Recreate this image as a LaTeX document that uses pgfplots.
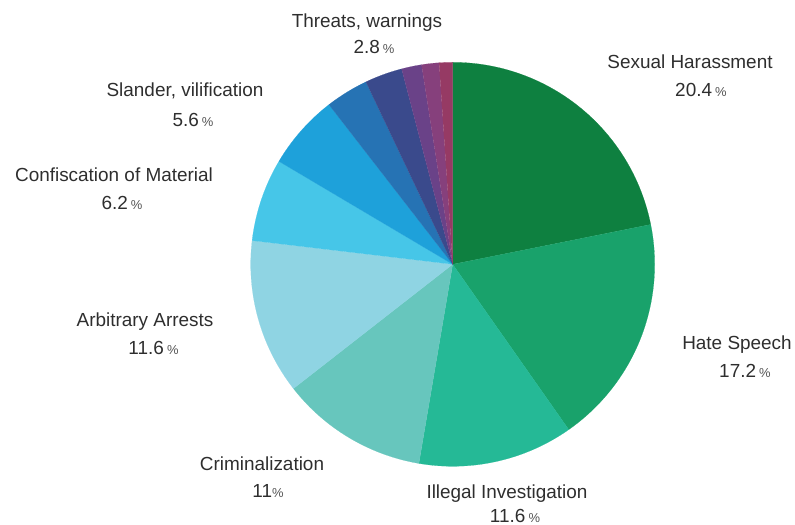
\documentclass[border=0pt]{standalone}
\usepackage{pgfplots}
\pgfplotsset{compat=1.18}
\usepackage{pgfplotstable}
\usepackage{fontspec}
\setmainfont{Liberation Sans}

\definecolor{c0}{HTML}{0E8040}
\definecolor{c1}{HTML}{19A26B}
\definecolor{c2}{HTML}{25B996}
\definecolor{c3}{HTML}{67C6BD}
\definecolor{c4}{HTML}{8FD4E3}
\definecolor{c5}{HTML}{46C6E8}
\definecolor{c6}{HTML}{1EA1DA}
\definecolor{c7}{HTML}{2673B4}
\definecolor{c8}{HTML}{3A4A8C}
\definecolor{c9}{HTML}{6A4288}
\definecolor{c10}{HTML}{86407C}
\definecolor{c11}{HTML}{963A64}
\definecolor{txt}{HTML}{2E2E2E}
\definecolor{pctc}{HTML}{555555}

% slices clockwise from 12 o'clock
\pgfplotstableread{
value
20.4
17.2
11.6
11
11.6
6.2
5.6
3.2
2.8
1.5
1.3
1.0
}\piedata

\newcommand{\pct}{{\color{pctc}\fontsize{13}{13}\selectfont\%}}

\begin{document}
\begin{tikzpicture}
\useasboundingbox (-452.7bp,-260.7bp) rectangle (342.3bp,264.3bp);
% total
\gdef\pietotal{0}
\foreach \i in {0,...,11} {
  \pgfplotstablegetelem{\i}{value}\of\piedata
  \pgfmathsetmacro\tmpsum{\pietotal+\pgfplotsretval}
  \xdef\pietotal{\tmpsum}
}
% cumulative angles
\gdef\piecum{0}
\foreach \i in {0,...,11} {
  \pgfplotstablegetelem{\i}{value}\of\piedata
  \pgfmathsetmacro\hi{90-\piecum/\pietotal*360}
  \pgfmathsetmacro\newcum{\piecum+\pgfplotsretval}
  \pgfmathsetmacro\lo{90-\newcum/\pietotal*360}
  \expandafter\xdef\csname pieA\i\endcsname{\lo}
  \expandafter\xdef\csname pieB\i\endcsname{\hi}
  \xdef\piecum{\newcum}
}
\begin{axis}[hide axis, scale only axis, width=404bp, height=404bp,
  xmin=-1, xmax=1, ymin=-1, ymax=1, clip=false, anchor=center, at={(0,0)}]
\pgfplotsinvokeforeach{0,...,11}{
  \edef\doslice{\noexpand\addplot[draw=c#1, line width=0.12pt, fill=c#1,
    domain=\csname pieA#1\endcsname:\csname pieB#1\endcsname, samples=120,
    variable=\noexpand\t] ({cos(\noexpand\t)},{sin(\noexpand\t)}) -- (axis cs:0,0) -- cycle;}
  \doslice
}
\end{axis}
\begin{scope}[every node/.style={anchor=base, text=txt, font=\fontsize{19}{23}\selectfont, inner sep=0pt}]
\node at (237.3bp,195.3bp) {Sexual Harassment};
\node at (248.3bp,167.3bp) {20.4\,\pct};
\node at (284.3bp,-84.7bp) {Hate Speech};
\node at (292.3bp,-112.7bp) {17.2\,\pct};
\node at (54.3bp,-233.7bp) {Illegal Investigation};
\node at (62.3bp,-257.7bp) {11.6\,\pct};
\node at (-190.7bp,-205.7bp) {Criminalization};
\node at (-184.7bp,-232.7bp) {11\pct};
\node at (-307.7bp,-61.7bp) {Arbitrary Arrests};
\node at (-299.2bp,-89.7bp) {11.6\,\pct};
\node at (-338.7bp,82.3bp) {Confiscation of Material};
\node at (-330.7bp,54.3bp) {6.2\,\pct};
\node at (-267.7bp,167.3bp) {Slander, vilification};
\node at (-259.7bp,137.3bp) {5.6\,\pct};
\node at (-85.7bp,236.3bp) {Threats, warnings};
\node at (-78.7bp,210.3bp) {2.8\,\pct};
\end{scope}
\end{tikzpicture}
\end{document}
